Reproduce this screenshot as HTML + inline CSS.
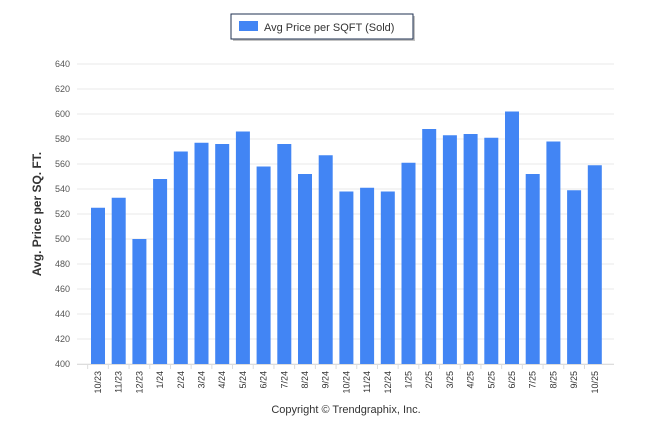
<!DOCTYPE html><html><head><style>body{margin:0;background:#fff}text{font-family:"Liberation Sans",sans-serif}</style></head><body>
<svg width="646" height="434" xmlns="http://www.w3.org/2000/svg">
<rect x="233" y="16" width="182" height="25" fill="#888" opacity=".5"/>
<rect x="231" y="14" width="182" height="25" fill="#fff" stroke="#1f3050" stroke-width="1"/>
<rect x="239" y="21" width="19" height="10" fill="#4285f4"/>
<text x="264" y="31" font-size="11" fill="#333">Avg Price per SQFT (Sold)</text>
<g id="g"></g>
<text transform="translate(41,214) rotate(-90)" text-anchor="middle" font-size="12" font-weight="bold" fill="#333">Avg. Price per SQ. FT.</text>
<text x="346" y="413" text-anchor="middle" font-size="11" fill="#333">Copyright © Trendgraphix, Inc.</text>
</svg>
<script>
const v=[525,533,500,548,570,577,576,586,558,576,552,567,538,541,538,561,588,583,584,581,602,552,578,539,559];
const l=["10/23","11/23","12/23","1/24","2/24","3/24","4/24","5/24","6/24","7/24","8/24","9/24","10/24","11/24","12/24","1/25","2/25","3/25","4/25","5/25","6/25","7/25","8/25","9/25","10/25"];
let s="";const y=d=>364-(d-400)*1.25;
for(let t=400;t<=640;t+=20){s+=`<line x1="77" x2="614" y1="${y(t)}" y2="${y(t)}" stroke="#e8e8e8"/><text x="70" y="${y(t)+3}" text-anchor="end" font-size="9" fill="#555">${t}</text>`;}
s+=`<line x1="77" x2="614" y1="364.5" y2="364.5" stroke="#ddd"/>`;
v.forEach((d,i)=>{const c=98+i*20.7;s+=`<rect x="${c-7}" y="${y(d)}" width="14" height="${364-y(d)}" fill="#4285f4"/><text transform="translate(${c+3},371) rotate(-90)" text-anchor="end" font-size="9" fill="#333">${l[i]}</text><line x1="${c-10.35}" x2="${c-10.35}" y1="365" y2="369" stroke="#ddd"/>`;});
document.getElementById("g").innerHTML=s;
</script>
</body></html>
